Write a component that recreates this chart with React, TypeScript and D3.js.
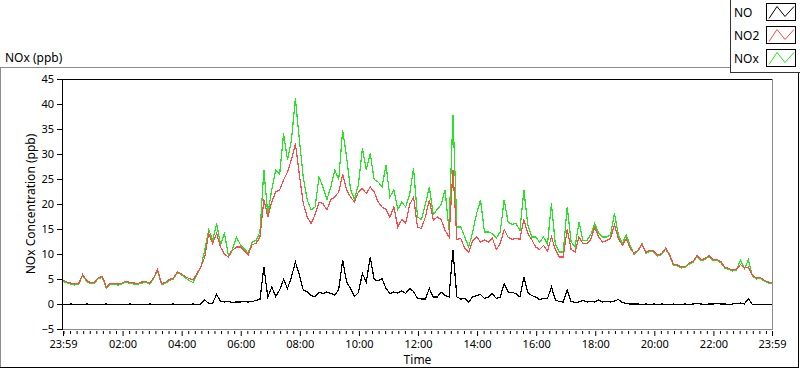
import * as d3 from 'd3'
import { useEffect, useRef } from 'react'

const W = 800
const H = 369
const STEP_MIN = 8 // one sample every 8 minutes, starting at 23:59

const no2 = [
  4.9, 4.5, 4.3, 4.1, 4.3, 6.0, 4.8, 4.4, 4.5, 5.4,
  5.6, 3.5, 4.2, 4.2, 4.1, 4.3, 4.7, 4.4, 4.3, 4.2,
  4.5, 4.6, 4.3, 5.3, 7.0, 4.2, 4.4, 5.0, 5.3, 6.5,
  6.2, 5.6, 5.2, 4.9, 6.2, 7.5, 9.5, 14.2, 12.2, 14.2,
  11.5, 10.0, 9.5, 10.8, 11.5, 11.5, 10.8, 9.9, 12.0, 12.2,
  13.5, 21.0, 17.5, 20.5, 22.5, 22.9, 24.9, 26.5, 29.0, 32.2,
  26.0, 20.2, 17.5, 16.2, 18.0, 20.5, 20.2, 18.9, 21.0, 21.5,
  22.5, 26.0, 22.9, 21.5, 20.5, 22.5, 23.2, 22.2, 23.5, 22.5,
  20.5, 19.5, 19.0, 17.5, 19.5, 15.5, 17.0, 16.2, 20.0, 21.5,
  15.5, 15.2, 17.5, 20.9, 16.9, 17.5, 17.0, 14.8, 13.5, 26.9,
  13.0, 13.2, 11.2, 10.5, 12.7, 13.5, 12.5, 12.9, 12.5, 13.3,
  11.0, 12.2, 15.0, 13.5, 13.0, 13.3, 13.0, 17.0, 14.2, 13.0,
  11.5, 11.0, 11.8, 10.7, 13.5, 11.0, 9.5, 9.5, 15.0, 11.0,
  10.5, 13.5, 12.2, 12.2, 13.0, 15.5, 13.5, 12.5, 12.8, 13.2,
  16.0, 13.2, 11.8, 13.2, 11.2, 10.2, 10.9, 12.0, 10.4, 10.9,
  10.7, 9.9, 10.2, 11.3, 10.0, 8.0, 7.9, 7.5, 7.6, 8.3,
  8.7, 9.8, 9.0, 9.2, 9.8, 9.0, 9.0, 8.6, 7.5, 7.2,
  6.9, 7.1, 8.0, 7.3, 7.5, 5.9, 5.3, 5.4, 4.9, 4.5,
  4.3,
]

const nox = [
  4.6, 4.3, 4.1, 3.9, 4.1, 5.8, 4.6, 4.2, 4.3, 5.2,
  5.4, 3.3, 4.0, 4.0, 3.9, 4.1, 4.5, 4.2, 4.1, 4.0,
  4.3, 4.4, 4.1, 5.1, 6.8, 4.0, 4.2, 4.8, 5.1, 6.3,
  6.0, 5.4, 4.8, 4.4, 6.0, 7.4, 10.9, 15.0, 12.8, 16.2,
  12.0, 14.2, 9.8, 11.0, 13.5, 12.0, 11.2, 10.2, 12.5, 12.8,
  14.5, 26.9, 18.0, 23.0, 26.9, 26.0, 34.2, 28.9, 32.9, 41.2,
  33.0, 25.5, 20.9, 18.9, 19.5, 25.5, 23.5, 21.0, 23.5, 26.9,
  25.0, 34.9, 29.5, 23.0, 21.0, 24.0, 31.2, 27.0, 30.2, 25.0,
  24.5, 23.5, 27.9, 21.5, 22.9, 19.0, 20.5, 19.5, 22.0, 27.2,
  17.5, 17.0, 20.0, 23.5, 18.0, 19.0, 20.0, 22.9, 15.0, 37.9,
  15.5, 15.5, 13.5, 11.5, 14.5, 18.2, 20.9, 14.5, 14.5, 14.2,
  13.3, 14.5, 20.9, 16.5, 16.0, 16.2, 14.8, 22.9, 16.0, 13.5,
  13.5, 12.5, 13.5, 12.0, 20.2, 12.0, 10.5, 10.5, 19.5, 12.5,
  11.5, 16.5, 12.8, 12.8, 14.0, 16.2, 14.2, 13.5, 13.5, 13.9,
  18.2, 13.9, 12.2, 13.9, 11.8, 10.0, 10.7, 12.2, 10.2, 10.7,
  10.5, 9.7, 10.0, 11.1, 9.8, 7.8, 7.7, 7.3, 7.4, 8.1,
  8.5, 9.6, 8.8, 9.0, 9.6, 8.8, 8.8, 8.4, 7.3, 7.0,
  6.7, 6.9, 8.9, 7.1, 8.9, 5.7, 5.1, 5.2, 4.7, 4.3,
  4.1,
]

const no = [
  0.0, 0.0, 0.1, 0.0, 0.0, 0.0, 0.1, 0.0, 0.0, 0.0,
  0.0, 0.1, 0.0, 0.0, 0.0, 0.0, 0.0, 0.1, 0.0, 0.0,
  0.0, 0.0, 0.1, 0.0, 0.0, 0.0, 0.0, 0.0, 0.1, 0.0,
  0.0, 0.0, 0.0, 0.1, 0.0, 0.1, 0.9, 0.2, 0.3, 2.0,
  0.6, 0.5, 0.6, 0.4, 0.5, 0.5, 0.6, 0.5, 0.6, 0.8,
  1.0, 7.5, 1.5, 3.5, 1.6, 2.9, 5.0, 3.2, 5.5, 8.5,
  6.0, 2.9, 2.5, 1.8, 1.5, 2.5, 2.2, 2.5, 2.2, 1.9,
  3.0, 8.9, 4.5, 3.2, 1.6, 2.4, 6.2, 4.5, 9.5, 5.0,
  4.7, 5.2, 3.2, 2.2, 2.5, 2.3, 2.7, 2.2, 3.2, 2.6,
  1.2, 1.1, 1.1, 3.2, 1.5, 1.5, 2.5, 1.8, 1.5, 10.9,
  1.5, 1.1, 1.2, 0.5, 1.5, 1.8, 2.0, 1.2, 1.5, 2.2,
  1.2, 1.5, 4.2, 2.5, 2.4, 2.2, 1.5, 5.5, 2.4, 1.8,
  1.5, 1.0, 1.2, 1.2, 3.5, 0.9, 0.6, 0.5, 2.9, 0.6,
  0.4, 0.5, 0.8, 0.5, 0.6, 0.5, 0.9, 0.5, 0.6, 0.5,
  0.7, 1.0, 0.4, 0.2, 0.1, 0.1, 0.1, 0.0, 0.1, 0.0,
  0.1, 0.0, 0.1, 0.0, 0.0, 0.1, 0.0, 0.0, 0.1, 0.0,
  0.1, 0.2, 0.1, 0.0, 0.1, 0.1, 0.2, 0.1, 0.1, 0.0,
  0.1, 0.2, 0.3, 0.1, 1.2, 0.0, 0.0, 0.0, 0.0, 0.0,
  0.0,
]

// minutes after 23:59
const xTickMinutes = [0, 121, 241, 361, 481, 601, 721, 841, 961, 1081, 1201, 1321, 1440]
const xTickLabels = ['23:59', '02:00', '04:00', '06:00', '08:00', '10:00', '12:00', '14:00', '16:00', '18:00', '20:00', '22:00', '23:59']
const yTicks = [-5, 0, 5, 10, 15, 20, 25, 30, 35, 40, 45]

const legendNames = ['NO', 'NO2', 'NOx']
const legendColors = ['#000000', '#ff4848', '#22e622']

const FONT = '"Noto Sans", "Liberation Sans", sans-serif'

export default function App() {
  const svgRef = useRef<SVGSVGElement | null>(null)

  useEffect(() => {
    if (!svgRef.current)
      return
    const svg = d3.select(svgRef.current)
    svg.selectAll('*').remove()

    const left = 63, right = 772, top = 79, bottom = 329
    const x = d3.scaleLinear().domain([0, 1440]).range([left, right])
    const y = d3.scaleLinear().domain([-5, 45]).range([bottom, top])

    const hline = (x1: number, x2: number, yy: number, c: string) =>
      svg.append('line').attr('x1', x1).attr('x2', x2).attr('y1', yy).attr('y2', yy).attr('stroke', c)
    const vline = (xx: number, y1: number, y2: number, c: string) =>
      svg.append('line').attr('x1', xx).attr('x2', xx).attr('y1', y1).attr('y2', y2).attr('stroke', c)

    // outer panel frame
    hline(0, 730, 67.5, '#8c8c8c')
    vline(0.5, 67, 368, '#8c8c8c')
    hline(0, 799, 367.5, '#000')
    vline(798.5, 72, 368, '#000')

    // plot frame
    hline(right + 0.5, left - 0.5, top + 0.5, '#000')
    vline(left - 0.5, top, bottom + 1, '#000')
    vline(right + 0.5, top, bottom + 1, '#8c8c8c')
    hline(left, right + 1, bottom + 0.5, '#8c8c8c')

    svg.append('defs').append('clipPath').attr('id', 'plotclip')
      .append('rect').attr('x', left).attr('y', top + 1).attr('width', right - left).attr('height', bottom - top - 1)

    const line = d3.line<number>()
      .x((_, i) => x(i * STEP_MIN))
      .y(d => y(d) + 0.5)

    const plot = svg.append('g').attr('clip-path', 'url(#plotclip)')
    const order: [number[], string][] = [[nox, legendColors[2]], [no2, legendColors[1]], [no, legendColors[0]]]
    order.forEach(([data, color]) => {
      plot.append('path')
        .attr('d', line(data))
        .attr('fill', 'none')
        .attr('stroke', color)
        .attr('stroke-width', 1.2)
        .attr('shape-rendering', 'crispEdges')
    })

    // y axis
    const ya = svg.append('g').attr('transform', `translate(${left - 1},0)`)
      .call(d3.axisLeft(y).tickValues(yTicks).tickSize(5).tickPadding(3))
    ya.select('.domain').remove()
    ya.selectAll('text').attr('font-family', FONT).attr('font-size', 11).attr('fill', '#000')

    // x axis, minor ticks then major ticks
    const minor: number[] = []
    for (let k = 1; k <= 9; k++) minor.push(121 - (k * 120) / 9)
    for (let m = 121; m < 1321; m += 120)
      for (let k = 1; k < 9; k++) minor.push(m + (k * 120) / 9)
    for (let k = 1; k < 9; k++) minor.push(1321 + (k * 120) / 9)

    const xm = svg.append('g').attr('transform', `translate(0,${bottom + 2})`)
      .call(d3.axisBottom(x).tickValues(minor).tickSize(3).tickFormat(() => ''))
    xm.select('.domain').remove()

    const xa = svg.append('g').attr('transform', `translate(0,${bottom + 2})`)
      .call(d3.axisBottom(x).tickValues(xTickMinutes).tickSize(5).tickPadding(4)
        .tickFormat((_, i) => xTickLabels[i]))
    xa.select('.domain').remove()
    xa.selectAll('text').attr('font-family', FONT).attr('font-size', 11).attr('fill', '#000')

    // titles
    svg.append('text').attr('x', 5).attr('y', 62).text('NOx (ppb)')
      .attr('font-family', FONT).attr('font-size', 12)
    svg.append('text').attr('x', (left + right) / 2).attr('y', 364).attr('text-anchor', 'middle').text('Time')
      .attr('font-family', FONT).attr('font-size', 12)
    svg.append('text').attr('transform', `translate(35,${(top + bottom) / 2}) rotate(-90)`)
      .attr('text-anchor', 'middle').text('NOx Concentration (ppb)')
      .attr('font-family', FONT).attr('font-size', 12)

    // legend
    vline(730.5, 0, 73, '#333')
    hline(730, 800, 72.5, '#333')
    legendNames.forEach((name, i) => {
      const by = 3.5 + i * 23
      svg.append('text').attr('x', 734).attr('y', by + 13.5).text(name)
        .attr('font-family', FONT).attr('font-size', 12)
      svg.append('rect').attr('x', 766.5).attr('y', by).attr('width', 29).attr('height', 17)
        .attr('fill', '#fff').attr('stroke', '#000')
      svg.append('path')
        .attr('d', `M${769},${by + 15} L${777},${by + 3} L${785},${by + 13} L${794},${by + 3}`)
        .attr('fill', 'none').attr('stroke', legendColors[i])
    })
  }, [])

  return (
    <svg ref={svgRef} width={W} height={H}
      style={{ position: 'absolute', left: 0, top: 0, background: '#fff' }} />
  )
}
